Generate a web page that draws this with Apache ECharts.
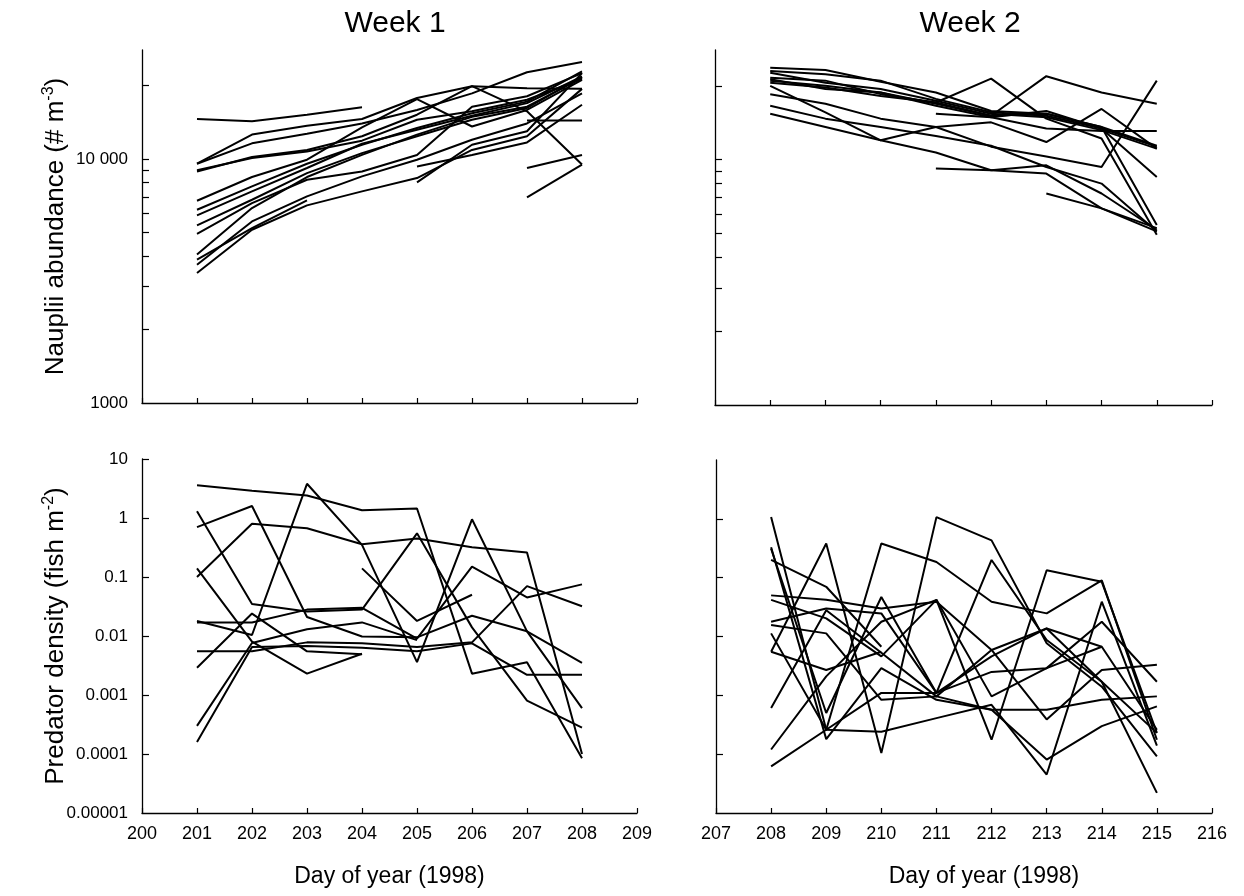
<!DOCTYPE html>
<html>
<head>
<meta charset="utf-8">
<script src="https://cdn.jsdelivr.net/npm/echarts@6/dist/echarts.min.js"></script>
<style>
  html, body { margin: 0; padding: 0; background: #fff; }
  #chart { width: 1244px; height: 896px; }
</style>
</head>
<body>
<div id="chart"></div>
<script>
// days sampled in each week
var days1 = [201, 202, 203, 204, 205, 206, 207, 208];
var days2 = [208, 209, 210, 211, 212, 213, 214, 215];

// nauplii abundance (# m-3), one row per site, week 1
var nauplii1 = [
  [14600, 14300, 15200, 16300, null, null, null, null],
  [9570, 12600, 13700, 14600, 17800, 19900, 19500, 19400],
  [9570, 11600, 12700, 14000, 15900, 18600, 22700, 25000],
  [9000, 10100, 10750, 11900, 14500, 15700, 17500, 21300],
  [8900, 10200, 10900, 12400, 15200, 19900, 15700, 9500],
  [6750, 8440, 9940, 13500, 17600, 13600, 15900, 21100],
  [6200, 7730, 9570, 11450, 13400, 15400, 17200, 22900],
  [5880, 7370, 9190, 11560, 13200, 15050, 16960, 21800],
  [5350, 6810, 8760, 10580, 12400, 14500, 16200, 21700],
  [4940, 6600, 8230, 8900, 10400, 16400, 18100, 22500],
  [4060, 6300, 8440, 10400, 12600, 14900, 16400, 21500],
  [3410, 5130, 6460, 7370, 8360, 10900, 12400, 19400],
  [3870, 5210, 6770, null, null, null, null, null],
  [3690, 5550, 7030, 8490, 9940, 12000, 14000, 18600],
  [null, null, null, null, 9330, 10400, 11700, 16700],
  [null, null, null, null, 8020, 11450, 13000, 22500],
  [null, null, null, null, null, null, 14400, 14400],
  [null, null, null, null, null, null, 9190, 10400],
  [null, null, null, null, null, null, 6970, 9480]
];

// nauplii abundance, week 2
var nauplii2 = [
  [23700, 23200, 20800, 18800, 15800, 15400, 13600, 11400],
  [23000, 22300, 21000, 17700, 15600, 15100, 13400, 11300],
  [22600, 20600, 19400, 17400, 15400, 14900, 13200, 11100],
  [21600, 21000, 18500, 17100, 21400, 14700, 12200, 4940],
  [21300, 19400, 18800, 16900, 15100, 21900, 18800, 16900],
  [21000, 20000, 18800, 16600, 14900, 15800, 13400, 8500],
  [20600, 19700, 18200, 17100, 15100, 15400, 13600, 5420],
  [20000, 15600, 12000, 13600, 14200, 11800, 16100, 11100],
  [18500, 16900, 14700, 13600, 11300, 10300, 9340, 21000],
  [16600, 14700, 13600, 12500, 11400, 9340, 7990, 5100],
  [15400, 13600, 12000, 10700, 9050, 9490, 7280, 5180],
  [null, null, null, 9200, 9050, 8780, 6330, 5100],
  [null, null, null, 15400, 14900, 13400, 13100, 13100],
  [null, null, null, null, null, 7280, 6330, 5260]
];

// predator density (fish m-2), week 1
var predator1 = [
  [3.6, 2.9, 2.4, 1.35, 1.45, 0.0023, 0.0036, 0.000085],
  [0.7, 1.6, 0.021, 0.0098, 0.0095, 0.022, 0.012, 0.0035],
  [0.1, 0.8, 0.67, 0.36, 0.45, 0.32, 0.26, 0.0001],
  [1.3, 0.035, 0.026, 0.028, 0.55, 0.014, 0.0008, 0.00028],
  [0.14, 0.008, 0.0023, 0.005, null, null, null, null],
  [0.018, 0.0104, 3.8, 0.35, 0.0036, 0.95, 0.012, 0.0006],
  [0.017, 0.017, 0.028, 0.03, 0.009, 0.15, 0.045, 0.075],
  [0.0055, 0.0055, 0.0078, 0.0075, 0.0065, 0.0078, 0.07, 0.032],
  [0.0029, 0.024, 0.0055, 0.0049, null, null, null, null],
  [0.0003, 0.0076, 0.013, 0.017, 0.0085, null, null, null],
  [0.00016, 0.0065, 0.0068, 0.0063, 0.0055, 0.0075, 0.0022, 0.0022],
  [null, null, null, 0.14, 0.018, 0.05, null, null]
];

// predator density, week 2
var predator2 = [
  [1.07, 0.00026, 0.00024, 0.00041, 0.00069, 0.000045, 0.039, 0.00014],
  [0.33, 0.00018, 0.0029, 0.00084, 0.00057, 0.000081, 0.0003, 0.00065],
  [0.31, 0.0005, 0.047, 0.0011, 0.2, 0.0087, 0.0017, 0.00023],
  [0.0055, 0.38, 0.000105, 1.07, 0.43, 0.0077, 0.0014, 0.000092],
  [0.2, 0.07, 0.0067, null, null, null, null, null],
  [0.000062, 0.00026, 0.38, 0.185, 0.039, 0.0247, 0.09, 0.000176],
  [0.05, 0.042, 0.03, 0.039, 0.0059, 0.00039, 0.0027, 0.0033],
  [0.0157, 0.0113, 0.00084, 0.00096, 0.00057, 0.00057, 0.00084, 0.00096],
  [0.0055, 0.0027, 0.0055, null, null, null, null, null],
  [0.00012, 0.0021, 0.0178, 0.042, 0.00096, 0.0029, 0.0067, null],
  [0.0113, 0.00026, 0.0011, 0.0011, 0.0025, 0.0029, 0.0178, 0.0017],
  [0.0178, 0.03, 0.0247, 0.0011, 0.0046, 0.0137, 0.0017, 0.000022],
  [0.00061, 0.028, 0.0053, 0.00096, 0.0059, 0.0137, 0.0067, 0.00026],
  [0.042, 0.0203, 0.0046, 0.042, 0.000176, 0.134, 0.085, 0.00023]
];

// axis ticks / labels
var naupTicks = [2000, 3000, 4000, 5000, 6000, 7000, 8000, 9000, 10000, 20000];
var naupLabelValues = [1000, 10000];
var naupLabels = ['1000', '10 000'];
var predTicksLeft = [0.0001, 0.001, 0.01, 0.1, 1, 10];
var predTicksRight = [0.0001, 0.001, 0.01, 0.1, 1];
var predLabelValues = [0.00001, 0.0001, 0.001, 0.01, 0.1, 1, 10];
var predLabels = ['0.00001', '0.0001', '0.001', '0.01', '0.1', '1', '10'];

var FONT = '"Liberation Sans", Arial, Helvetica, sans-serif';
var BLACK = '#000';

function pickLabel(values, labels) {
  return function (v) {
    var best = 0, d = Infinity;
    for (var i = 0; i < values.length; i++) {
      var dd = Math.abs(Math.log10(v) - Math.log10(values[i]));
      if (dd < d) { d = dd; best = i; }
    }
    return labels[best];
  };
}

var myChart = echarts.init(document.getElementById('chart'));

var grids = [
  { left: 142, top: 50, width: 495, height: 353 },
  { left: 715, top: 50, width: 497, height: 355 },
  { left: 142, top: 459, width: 495, height: 354 },
  { left: 716, top: 460, width: 496, height: 353 }
];
grids.forEach(function (g) { g.outerBoundsMode = 'none'; g.containLabel = false; });

function xAxis(gi, min, max, showLabel, shift) {
  return {
    type: 'value', gridIndex: gi, min: min, max: max, interval: 1,
    splitLine: { show: false },
    axisLine: { show: true, lineStyle: { color: BLACK, width: 1.3 } },
    axisTick: { show: true, inside: true, length: 5, lineStyle: { color: BLACK, width: 1.2 } },
    axisLabel: { show: showLabel, color: BLACK, fontSize: 18, fontFamily: FONT, margin: 12 },
    name: showLabel ? 'Day of year (1998)' : '',
    nameLocation: 'middle', nameGap: 52, nameMoveOverlap: false,
    nameTextStyle: { color: BLACK, fontSize: 23, fontFamily: FONT,
                     padding: [0, 0, 0, shift || 0] }
  };
}

function yAxis(gi, min, max, ticks, labelVals, labels, name, showLabel) {
  return {
    type: 'log', logBase: 10, gridIndex: gi, min: min, max: max,
    splitLine: { show: false },
    axisLine: { show: true, lineStyle: { color: BLACK, width: 1.3 } },
    axisTick: { show: true, inside: true, length: 7, customValues: ticks,
                lineStyle: { color: BLACK, width: 1.2 } },
    axisLabel: { show: showLabel, customValues: labelVals, color: BLACK, fontSize: 17,
                 fontFamily: FONT, margin: 14, formatter: pickLabel(labelVals, labels) },
    name: name, nameLocation: 'middle', nameGap: 71, nameMoveOverlap: false,
    nameTextStyle: {
      color: BLACK, fontFamily: FONT,
      rich: {
        t: { fontSize: 26, fontFamily: FONT, color: BLACK, lineHeight: 30 },
        s: { fontSize: 16, fontFamily: FONT, color: BLACK, verticalAlign: 'top' }
      }
    }
  };
}

var series = [];
function addLines(rows, days, idx) {
  rows.forEach(function (row) {
    var pts = [];
    row.forEach(function (v, i) { if (v != null) pts.push([days[i], v]); });
    series.push({
      type: 'line', xAxisIndex: idx, yAxisIndex: idx, data: pts,
      symbol: 'none', silent: true,
      lineStyle: { color: '#000', width: 2 }
    });
  });
}
addLines(nauplii1, days1, 0);
addLines(nauplii2, days2, 1);
addLines(predator1, days1, 2);
addLines(predator2, days2, 3);

var option = {
  animation: false,
  backgroundColor: '#fff',
  title: [
    { text: 'Week 1', left: 390, top: 4, textAlign: 'center',
      textStyle: { fontSize: 30, fontWeight: 'normal', color: BLACK, fontFamily: FONT } },
    { text: 'Week 2', left: 965, top: 4, textAlign: 'center',
      textStyle: { fontSize: 30, fontWeight: 'normal', color: BLACK, fontFamily: FONT } }
  ],
  grid: grids,
  xAxis: [
    xAxis(0, 200, 209, false),
    xAxis(1, 207, 216, false),
    xAxis(2, 200, 209, true),
    xAxis(3, 207, 216, true, 40)
  ],
  yAxis: [
    yAxis(0, 1000, 28000, naupTicks, naupLabelValues, naupLabels,
          '{t|Nauplii abundance (# m}{s|-3}{t|)}', true),
    yAxis(1, 1000, 28000, naupTicks, naupLabelValues, naupLabels, '', false),
    yAxis(2, 0.00001, 10, predTicksLeft, predLabelValues, predLabels,
          '{t|Predator density (fish m}{s|-2}{t|)}', true),
    yAxis(3, 0.00001, 10, predTicksRight, predLabelValues, predLabels, '', false)
  ],
  series: series
};
myChart.setOption(option);
</script>
</body>
</html>
